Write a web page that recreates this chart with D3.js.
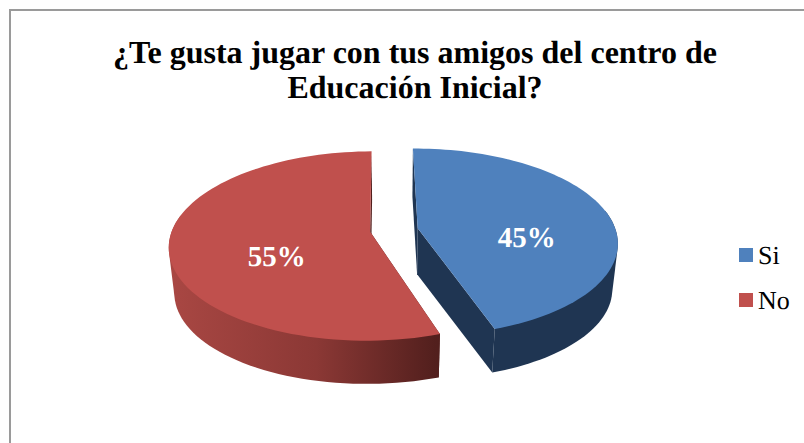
<!DOCTYPE html>
<html>
<head>
<meta charset="utf-8">
<script src="https://cdn.jsdelivr.net/npm/d3@7"></script>
<style>
  html, body { margin: 0; padding: 0; background: #fff; }
  svg { display: block; }
  text { font-family: "Liberation Serif", serif; text-rendering: geometricPrecision; }
</style>
</head>
<body>
<svg class="chart"></svg>
<script>
const width = 804;
const height = 443;

// data
const categories = ['Si', 'No'];
const values = [45, 55];
const titleLines = ['¿Te gusta jugar con tus amigos del centro de', 'Educación Inicial?'];

const topColors = ['#4f81bd', '#c0504d'];

// fake 3d view of the pie: world x/y in pie radii, z = 0 top ring, 1 bottom ring
const view = {
  x0: 394, y0: 230,
  rx: 198, ry: 92,
  persp: 0.149,
  depth: 46,
  shrink: 0.975
};
const explode = [[0.12, -0.02], [-0.12, 0.02]];
const labelRadius = [0.57, 0.47];
const labelDrop = 27;

const svg = d3.select('.chart').attr('width', width).attr('height', height);

function project(x, y, z) {
  const w = 1 - view.persp * y;
  const s = 1 - (1 - view.shrink) * z;
  return [
    view.x0 + view.rx * x / w * s,
    view.y0 + view.ry * y * s / w + view.depth * z
  ];
}

const pie = d3.pie().sort(null).value(d => d)
  .startAngle(-0.01).endAngle(2 * Math.PI - 0.01);
const slices = pie(values);

// points along the rim of a slice, angle 0 at twelve o'clock, clockwise
function rim(d, i, z, nearOnly) {
  const [ox, oy] = explode[i];
  return d3.range(0, 1.0001, 1 / 90)
    .map(t => d.startAngle + t * (d.endAngle - d.startAngle))
    .filter(a => !nearOnly || -Math.cos(a) > -0.2)
    .map(a => project(Math.sin(a) + ox, -Math.cos(a) + oy, z));
}
function apex(i, z) {
  return project(explode[i][0], explode[i][1], z);
}
const line = d3.line();

// frame, only top and left show
svg.append('path')
  .attr('d', `M10,${height}V10H${width}`)
  .attr('fill', 'none')
  .attr('stroke', '#9a9a9a')
  .attr('stroke-width', 2);

svg.append('g').selectAll('text')
  .data(titleLines)
  .enter()
  .append('text')
  .attr('x', 415)
  .attr('y', (d, i) => 63 + i * 35)
  .attr('text-anchor', 'middle')
  .attr('font-size', 32)
  .attr('font-weight', 'bold')
  .attr('fill', '#000')
  .text(d => d);

const redWall = svg.append('defs').append('linearGradient')
  .attr('id', 'redWall')
  .attr('gradientUnits', 'userSpaceOnUse')
  .attr('x1', 170).attr('x2', 436).attr('y1', 0).attr('y2', 0);
redWall.append('stop').attr('offset', '0').attr('stop-color', '#a94743');
redWall.append('stop').attr('offset', '0.55').attr('stop-color', '#8b3835');
redWall.append('stop').attr('offset', '1').attr('stop-color', '#521f1d');

const wallFill = ['#1f3552', 'url(#redWall)'];

const pieces = svg.append('g').selectAll('g')
  .data(slices)
  .enter()
  .append('g');

// cut faces first
pieces.append('path')
  .attr('d', (d, i) => {
    const top = rim(d, i, 0);
    const bottom = rim(d, i, 1);
    return line([top[0], apex(i, 0), apex(i, 1), bottom[0]]) + 'Z';
  })
  .attr('fill', (d, i) => i === 0 ? wallFill[0] : '#521f1d');

pieces.append('path')
  .attr('d', (d, i) => {
    const top = rim(d, i, 0);
    const bottom = rim(d, i, 1);
    return line([top[top.length - 1], apex(i, 0), apex(i, 1), bottom[bottom.length - 1]]) + 'Z';
  })
  .attr('fill', (d, i) => i === 0 ? wallFill[0] : '#521f1d');

// outer wall: hull of the near rim, top and bottom, the top face hides the rest
pieces.append('path')
  .attr('d', (d, i) => line(d3.polygonHull(rim(d, i, 0, true).concat(rim(d, i, 1, true)))) + 'Z')
  .attr('fill', (d, i) => wallFill[i]);

pieces.append('path')
  .attr('d', (d, i) => line([apex(i, 0)].concat(rim(d, i, 0))) + 'Z')
  .attr('fill', (d, i) => topColors[i]);

pieces.append('text')
  .attr('transform', (d, i) => {
    const a = (d.startAngle + d.endAngle) / 2;
    const p = project(Math.sin(a) * labelRadius[i] + explode[i][0], -Math.cos(a) * labelRadius[i] + explode[i][1], 0);
    return `translate(${p[0]},${p[1] + labelDrop})`;
  })
  .attr('text-anchor', 'middle')
  .attr('font-size', 29)
  .attr('font-weight', 'bold')
  .attr('fill', '#fff')
  .text(d => d.value + '%');

const legendY = d3.scalePoint().domain(categories).range([255, 300]);

const legend = svg.append('g').selectAll('g')
  .data(categories)
  .enter()
  .append('g')
  .attr('transform', d => `translate(739,${legendY(d)})`);

legend.append('rect')
  .attr('y', -7)
  .attr('width', 14)
  .attr('height', 14)
  .attr('fill', (d, i) => topColors[i]);

legend.append('text')
  .attr('x', 19)
  .attr('y', 9)
  .attr('font-size', 26)
  .attr('fill', '#000')
  .text(d => d);
</script>
</body>
</html>
